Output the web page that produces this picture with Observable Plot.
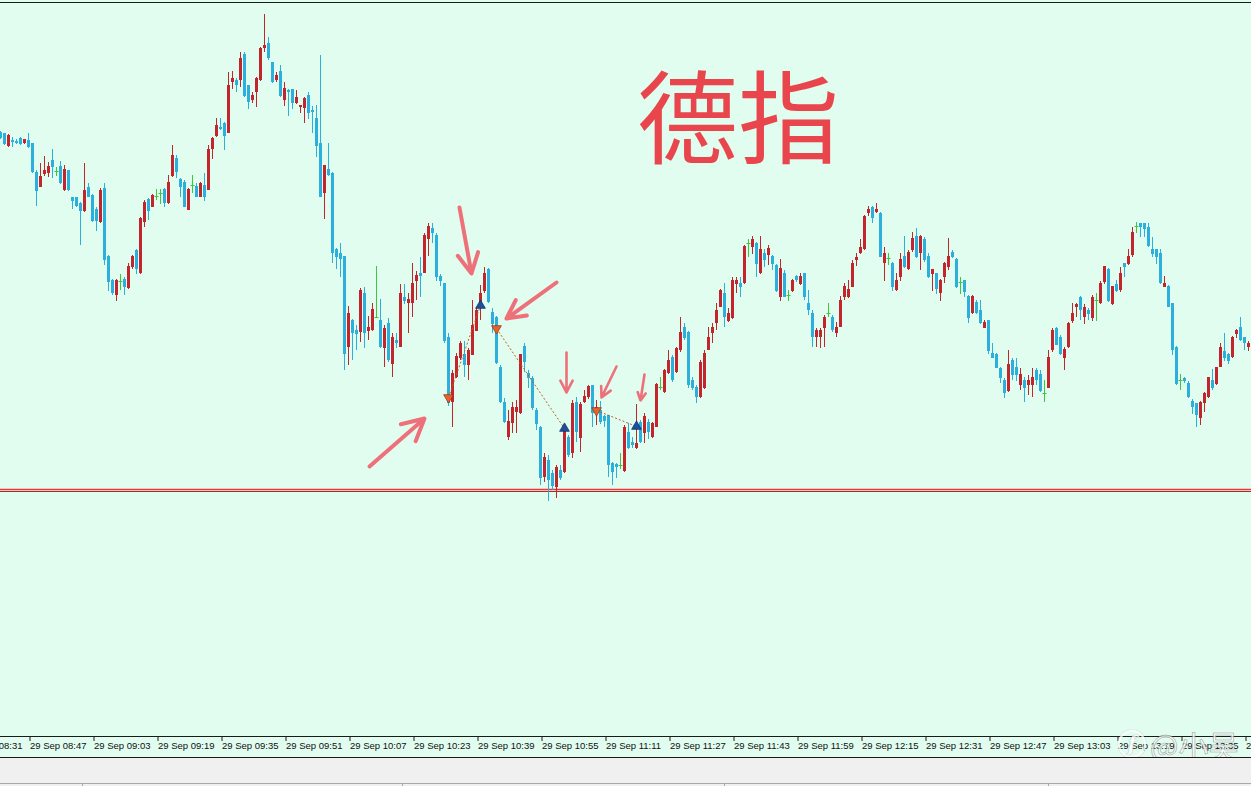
<!DOCTYPE html>
<html>
<head>
<meta charset="utf-8">
<script src="https://cdn.jsdelivr.net/npm/d3@7"></script>
<script src="https://cdn.jsdelivr.net/npm/@observablehq/plot@0.6"></script>
<style>
html, body { margin: 0; padding: 0; width: 1251px; height: 786px; overflow: hidden; background: #f0f0f0; }
#chart { position: absolute; left: 0; top: 0; width: 1251px; height: 757px; background: #e0fdf0; overflow: hidden; border-bottom: 1px solid #1a1a1a; }
#chart svg { position: absolute; left: 0; top: 0; }
.hline { position: absolute; left: 0; width: 1251px; height: 1px; background: #1a1a1a; }
#title { position: absolute; left: 637px; top: 62px; font-family: "Noto Sans CJK SC"; font-weight: 400; font-size: 101px; line-height: 1; color: #e8464c; white-space: nowrap; }
#status { position: absolute; left: 0; top: 783px; width: 1251px; height: 1px; background: #a8a8a8; }
.sep { position: absolute; top: 783px; width: 1px; height: 3px; background: #a8a8a8; }
#wm { position: absolute; left: 1118px; top: 722px; height: 40px; white-space: nowrap; opacity: 0.8; }
#wm .logo { display: inline-block; width: 24px; height: 24px; border: 2px solid #fff; border-radius: 50%; color: #fff; font: italic 700 20px "DejaVu Serif"; text-align: center; line-height: 24px; vertical-align: middle; box-shadow: 0 0 1px #888; text-shadow: 0 0 1px #777; }
#wm .txt { display: inline-block; vertical-align: middle; font-family: "Noto Sans CJK SC"; font-size: 30px; color: #fff; -webkit-text-stroke: 0.6px #8a8a8a; margin-left: 4px; }
</style>
</head>
<body>
<div id="chart">
  <div class="hline" style="top:2px"></div>
  <div class="hline" style="top:736px"></div>
  <div id="title">德指</div>
  <div id="wm"><span class="logo">f</span><span class="txt">@小吴</span></div>
</div>
<div id="status"></div>
<div class="sep" style="left:82px"></div>
<div class="sep" style="left:402px"></div>
<div class="sep" style="left:724px"></div>
<div class="sep" style="left:1048px"></div>
<script>
// ---------- data: DAX 1-minute candles, 29 Sep, starting 08:40 ----------
const day = "2020-09-29";
const firstBar = "08:40";

const opens = [
12868,12867,12854,12860,12859,12862,12857,12860,12857,12828,12813,12826,12827,12840,12829,12834,12810,12830,12803,12803,
12797,12789,12813,12805,12791,12778,12812,12744,12720,12705,12719,12721,12712,12733,12750,12727,12778,12801,12793,12804,
12807,12811,12797,12824,12842,12821,12818,12790,12815,12814,12803,12815,12810,12851,12864,12873,12877,12867,12918,12920,
12920,12946,12915,12900,12908,12920,12952,12957,12938,12920,12929,12900,12910,12911,12897,12893,12892,12905,12890,12882,
12857,12807,12831,12827,12751,12747,12744,12653,12680,12670,12668,12707,12669,12670,12683,12680,12652,12677,12636,12660,
12653,12703,12697,12697,12719,12727,12727,12761,12772,12765,12724,12717,12663,12598,12623,12642,12646,12635,12645,12669,
12695,12709,12731,12688,12683,12633,12598,12563,12577,12588,12587,12654,12627,12622,12590,12573,12523,12540,12527,12513,
12530,12528,12563,12547,12598,12562,12598,12603,12615,12589,12590,12584,12585,12537,12536,12535,12529,12568,12558,12552,
12578,12567,12578,12563,12573,12613,12608,12627,12643,12628,12650,12673,12668,12620,12613,12603,12612,12650,12667,12677,
12693,12707,12679,12682,12716,12717,12717,12757,12753,12757,12727,12747,12745,12744,12735,12703,12727,12705,12709,12724,
12716,12727,12697,12687,12663,12663,12672,12687,12683,12667,12673,12703,12703,12713,12740,12747,12751,12787,12793,12788,
12787,12737,12742,12737,12710,12723,12744,12731,12750,12764,12747,12761,12744,12726,12727,12707,12723,12733,12748,12741,
12718,12720,12704,12687,12698,12690,12672,12680,12647,12646,12632,12620,12609,12640,12633,12615,12620,12615,12615,12630,
12626,12607,12612,12650,12672,12663,12642,12653,12679,12693,12703,12683,12690,12682,12700,12697,12718,12731,12696,12716,
12710,12737,12736,12745,12774,12777,12777,12773,12751,12751,12747,12713,12714,12697,12653,12620,12622,12617,12599,12597,
12582,12597,12603,12620,12616,12633,12649,12646,12643,12666,12673,12663,12653];

const highs = [
12869,12867,12866,12863,12861,12863,12861,12867,12857,12830,12837,12844,12838,12851,12833,12839,12835,12830,12803,12803,
12798,12837,12817,12806,12793,12812,12817,12745,12721,12721,12726,12723,12737,12745,12751,12783,12800,12802,12806,12811,
12811,12812,12825,12855,12845,12822,12820,12812,12825,12817,12818,12827,12855,12863,12882,12882,12878,12928,12929,12922,
12948,12948,12915,12908,12923,12953,12986,12963,12938,12928,12935,12918,12911,12911,12910,12895,12903,12908,12894,12895,
12945,12835,12857,12828,12752,12757,12744,12694,12681,12675,12712,12713,12684,12697,12734,12701,12675,12682,12667,12667,
12716,12716,12707,12737,12729,12743,12767,12777,12777,12767,12726,12717,12667,12630,12647,12659,12659,12652,12700,12692,
12715,12733,12732,12692,12684,12635,12602,12590,12598,12600,12646,12657,12630,12624,12592,12574,12547,12545,12530,12535,
12535,12575,12565,12600,12603,12598,12610,12615,12615,12600,12599,12585,12585,12538,12537,12547,12575,12577,12563,12596,
12580,12587,12581,12578,12617,12623,12631,12650,12645,12653,12683,12677,12669,12623,12615,12640,12650,12673,12677,12697,
12711,12717,12692,12723,12723,12723,12755,12761,12764,12758,12764,12751,12755,12745,12736,12741,12730,12710,12721,12725,
12727,12727,12710,12690,12672,12672,12685,12697,12685,12678,12704,12717,12720,12740,12747,12761,12785,12794,12794,12797,
12788,12753,12747,12738,12727,12747,12764,12750,12768,12772,12765,12763,12747,12731,12727,12721,12738,12762,12750,12742,
12723,12720,12705,12705,12700,12700,12680,12680,12657,12647,12633,12622,12650,12642,12642,12632,12623,12625,12632,12632,
12630,12620,12650,12672,12673,12665,12653,12678,12697,12697,12704,12696,12692,12705,12707,12719,12734,12732,12714,12720,
12733,12737,12751,12773,12778,12777,12777,12777,12763,12751,12751,12724,12715,12697,12654,12626,12623,12619,12601,12597,
12599,12608,12623,12631,12633,12657,12667,12647,12664,12671,12683,12663,12659];

const lows = [
12861,12855,12853,12853,12856,12855,12856,12852,12827,12794,12813,12824,12823,12822,12824,12816,12809,12809,12791,12793,
12755,12788,12803,12778,12769,12777,12735,12709,12705,12699,12710,12705,12711,12731,12726,12726,12773,12780,12793,12800,
12796,12793,12796,12823,12822,12803,12793,12790,12807,12803,12803,12799,12810,12841,12863,12870,12850,12867,12911,12908,
12913,12903,12891,12897,12893,12919,12948,12940,12917,12918,12903,12894,12884,12891,12896,12887,12877,12881,12867,12843,
12803,12781,12824,12737,12731,12723,12630,12635,12640,12650,12658,12652,12660,12669,12682,12652,12633,12638,12623,12652,
12653,12696,12667,12683,12700,12703,12727,12744,12757,12719,12714,12657,12594,12573,12622,12640,12623,12620,12645,12669,
12680,12707,12697,12667,12636,12597,12577,12560,12567,12567,12586,12628,12612,12590,12570,12515,12518,12499,12510,12502,
12520,12527,12543,12542,12558,12548,12597,12601,12573,12575,12576,12573,12523,12515,12522,12531,12528,12551,12552,12551,
12557,12557,12561,12562,12573,12610,12607,12626,12618,12627,12648,12660,12612,12610,12597,12602,12611,12650,12657,12670,
12693,12673,12678,12681,12707,12703,12716,12743,12746,12723,12726,12733,12735,12730,12708,12699,12703,12699,12708,12718,
12715,12700,12685,12653,12653,12652,12653,12683,12668,12663,12673,12700,12702,12713,12734,12746,12750,12784,12777,12787,
12743,12719,12735,12709,12709,12719,12732,12730,12748,12742,12730,12738,12722,12709,12706,12699,12717,12730,12742,12712,
12706,12703,12677,12686,12686,12676,12672,12646,12642,12632,12617,12602,12608,12620,12619,12610,12598,12605,12603,12615,
12608,12598,12612,12648,12655,12645,12630,12652,12677,12683,12680,12676,12680,12679,12679,12696,12716,12698,12695,12708,
12708,12723,12735,12743,12767,12763,12763,12753,12743,12736,12716,12713,12693,12645,12615,12610,12617,12602,12586,12573,
12575,12588,12602,12610,12615,12633,12639,12636,12642,12662,12659,12650,12649];

const closes = [
12862,12856,12865,12858,12857,12856,12861,12853,12828,12809,12824,12830,12834,12833,12829,12817,12831,12810,12799,12794,
12789,12810,12803,12779,12779,12810,12740,12718,12707,12720,12719,12713,12734,12744,12731,12782,12798,12789,12805,12804,
12807,12797,12818,12845,12828,12813,12793,12811,12815,12803,12817,12803,12851,12862,12875,12871,12864,12915,12922,12915,
12942,12904,12898,12905,12922,12952,12955,12942,12918,12925,12904,12912,12908,12897,12903,12895,12902,12887,12888,12854,
12803,12835,12825,12747,12743,12741,12646,12687,12667,12666,12710,12667,12673,12691,12683,12653,12672,12640,12663,12657,
12707,12699,12701,12717,12725,12724,12765,12774,12767,12723,12719,12659,12597,12627,12644,12657,12635,12650,12675,12690,
12707,12727,12698,12676,12637,12598,12578,12579,12593,12593,12646,12638,12622,12592,12576,12522,12543,12520,12514,12533,
12522,12573,12545,12597,12568,12596,12604,12614,12587,12593,12578,12579,12535,12528,12533,12535,12573,12552,12555,12557,
12558,12584,12568,12577,12616,12613,12630,12640,12620,12652,12668,12662,12615,12612,12603,12638,12647,12663,12673,12690,
12710,12683,12687,12720,12720,12713,12754,12757,12761,12736,12751,12740,12752,12736,12709,12732,12703,12705,12720,12720,
12724,12703,12690,12663,12670,12670,12683,12687,12670,12673,12700,12714,12711,12737,12743,12753,12784,12791,12782,12791,
12743,12747,12742,12713,12720,12741,12733,12748,12762,12743,12764,12740,12723,12731,12711,12720,12737,12744,12743,12713,
12718,12708,12682,12704,12687,12677,12678,12649,12642,12632,12622,12607,12636,12625,12625,12626,12612,12620,12623,12620,
12609,12607,12643,12670,12655,12646,12651,12677,12687,12696,12690,12693,12686,12703,12700,12717,12734,12699,12714,12709,
12727,12733,12744,12768,12774,12773,12771,12754,12746,12743,12717,12717,12693,12650,12616,12620,12619,12603,12593,12585,
12598,12607,12623,12612,12633,12653,12642,12639,12663,12670,12660,12657,12657];

// time-axis labels
const tickLabels = ["29 Sep 08:31","29 Sep 08:47","29 Sep 09:03","29 Sep 09:19","29 Sep 09:35","29 Sep 09:51",
  "29 Sep 10:07","29 Sep 10:23","29 Sep 10:39","29 Sep 10:55","29 Sep 11:11","29 Sep 11:27","29 Sep 11:43",
  "29 Sep 11:59","29 Sep 12:15","29 Sep 12:31","29 Sep 12:47","29 Sep 13:03","29 Sep 13:19","29 Sep 13:35","29 Sep 13:51"];

// horizontal level lines
const levels = [12511, 12509];

// trades: sell entries and their closing buys
const sellTimes = ["10:32", "10:44", "11:09"];
const sellPrices = [12603, 12672, 12590];
const buyTimes = ["10:40", "11:01", "11:19"];
const buyPrices = [12695, 12572, 12574];

// hand-drawn annotation arrows (start -> end)
const noteStartTimes = ["10:34:45", "10:59:00", "10:12:15", "11:01:30", "11:14:00", "11:21:00"];
const noteStartPrices = [12793, 12718, 12534, 12648, 12634, 12626];
const noteEndTimes = ["10:37:45", "10:46:30", "10:26:00", "11:01:30", "11:10:15", "11:20:00"];
const noteEndPrices = [12727, 12682, 12582, 12608, 12603, 12600];

// ---------- build ----------
const at = s => new Date(Date.parse(`${day}T${s.length === 5 ? s + ":00" : s}Z`));
const t0 = +at(firstBar);
const candles = opens.map((o, i) => ({
  t: new Date(t0 + i * 60000), open: o, high: highs[i], low: lows[i], close: closes[i]
}));
const UP = "#c3252c", DOWN = "#2bb0de", DOJI = "#3cc83c";
const colorOf = d => d.close > d.open ? UP : d.close < d.open ? DOWN : DOJI;
const bodies = candles.filter(d => d.open !== d.close);
const dojis = candles.filter(d => d.open === d.close);

const tickDates = tickLabels.map(s => at(s.slice(7)));
const labelOf = new Map(tickDates.map((d, i) => [+d, tickLabels[i]]));

const trades = sellTimes.map((s, i) => ({
  sellT: at(s), sellP: sellPrices[i], buyT: at(buyTimes[i]), buyP: buyPrices[i]
}));
const notes = noteStartTimes.map((s, i) => ({
  x1: at(s), y1: noteStartPrices[i], x2: at(noteEndTimes[i]), y2: noteEndPrices[i], i
}));

const plot = Plot.plot({
  width: 1251,
  height: 757,
  marginTop: 2,
  marginBottom: 20,
  marginLeft: 0,
  marginRight: 0,
  style: { background: "transparent", fontFamily: "Liberation Sans", fontSize: "9.5px", color: "#000", overflow: "hidden" },
  x: { type: "utc", domain: [new Date(t0), new Date(t0 + 312.75 * 60000)], axis: null },
  y: { domain: [12263, 12998], axis: null },
  marks: [
    Plot.ruleY([levels[0]], { stroke: "#ee3434", strokeWidth: 1.6 }),
    Plot.ruleY([levels[1]], { stroke: "#b42424", strokeWidth: 1 }),
    Plot.ruleX(candles, { x: "t", y1: "low", y2: "high", stroke: colorOf, strokeWidth: 1 }),
    Plot.ruleX(bodies, { x: "t", y1: "open", y2: "close", stroke: colorOf, strokeWidth: 3 }),
    Plot.ruleY(dojis, { y: "open", x1: d => new Date(+d.t - 22500), x2: d => new Date(+d.t + 37500), stroke: DOJI, strokeWidth: 1 }),
    Plot.link(trades, { x1: "sellT", y1: "sellP", x2: "buyT", y2: "buyP", stroke: "#c0601c", strokeWidth: 1, strokeDasharray: "2,2" }),
    Plot.dot(trades, { x: "sellT", y: "sellP", symbol: "triangle", rotate: 180, r: 3.6, fill: "#e8632c", stroke: "#9a3a12", strokeWidth: 0.8 }),
    Plot.dot(trades, { x: "buyT", y: "buyP", symbol: "triangle", r: 3.6, fill: "#1d4f9c", stroke: "#12346a", strokeWidth: 0.8 }),
    Plot.arrow(notes.filter(d => d.i < 3), { x1: "x1", y1: "y1", x2: "x2", y2: "y2", stroke: "#f0606c", strokeOpacity: 0.9, strokeWidth: 4, headLength: 16, headAngle: 55 }),
    Plot.arrow(notes.filter(d => d.i >= 3), { x1: "x1", y1: "y1", x2: "x2", y2: "y2", stroke: "#f0606c", strokeOpacity: 0.9, strokeWidth: 2.6, headLength: 11, headAngle: 55 }),
    Plot.axisX(tickDates, { tickSize: 4, tickPadding: 1, textAnchor: "start", dx: 1.5, tickFormat: d => labelOf.get(+d), stroke: "#1a1a1a", fill: "#111" })
  ]
});
document.getElementById("chart").insertBefore(plot, document.getElementById("title"));
</script>
</body>
</html>
